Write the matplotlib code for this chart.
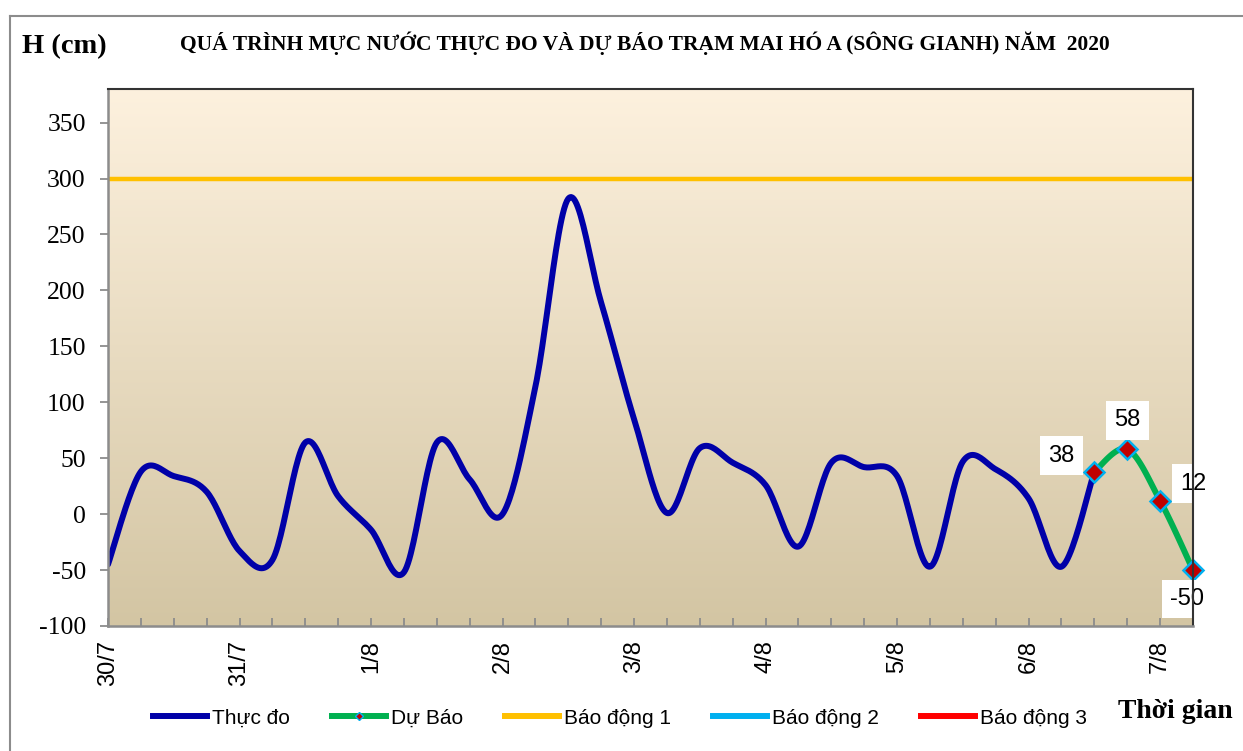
import numpy as np
import matplotlib
matplotlib.use("Agg")
import matplotlib.pyplot as plt
from matplotlib.lines import Line2D

# ---------------- data ----------------
day_labels = ["30/7", "31/7", "1/8", "2/8", "3/8", "4/8", "5/8", "6/8", "7/8"]
steps_per_day = 4  # 6-hourly observations

observed = [-45, 38, 34, 20, -33, -41, 64, 16, -14, -52,
            64, 31, 0, 114, 282, 189, 85, 1, 59, 46,
            26, -29, 46, 42, 34, -47, 47, 40, 14, -47, 38]
forecast_start = 30
forecast = [38, 58, 12, -50]

alarm1 = 300
alarm2 = 500
alarm3 = 650

title = "QUÁ TRÌNH MỰC NƯỚC THỰC ĐO VÀ DỰ BÁO TRẠM MAI HÓ A (SÔNG GIANH) NĂM  2020"
ylabel = "H (cm)"
xlabel = "Thời gian"
legend_labels = ["Thực đo", "Dự Báo", "Báo động 1", "Báo động 2", "Báo động 3"]

# ---------------- helpers ----------------
def catmull_rom(xs, ys, n=24):
    xs = np.asarray(xs, float)
    ys = np.asarray(ys, float)
    pts = np.column_stack([xs, ys])
    out = []
    m = len(pts)
    for i in range(m - 1):
        p0 = pts[i - 1] if i > 0 else pts[i]
        p1 = pts[i]
        p2 = pts[i + 1]
        p3 = pts[i + 2] if i + 2 < m else pts[i + 1]
        t = np.linspace(0, 1, n, endpoint=(i == m - 2))[:, None]
        seg = 0.5 * ((2 * p1) + (-p0 + p2) * t + (2 * p0 - 5 * p1 + 4 * p2 - p3) * t ** 2
                     + (-p0 + 3 * p1 - 3 * p2 + p3) * t ** 3)
        out.append(seg)
    out = np.vstack(out)
    return out[:, 0], out[:, 1]

# ---------------- figure ----------------
W, H = 1243, 751
fig = plt.figure(figsize=(W / 100, H / 100), dpi=100)
fig.patch.set_facecolor("white")

# outer chart border (top and left edges visible)
fig.add_artist(Line2D([10 / W, 1.0], [1 - 16 / H, 1 - 16 / H], transform=fig.transFigure,
                      color="#8c8c8c", lw=1.5))
fig.add_artist(Line2D([10 / W, 10 / W], [0, 1 - 16 / H], transform=fig.transFigure,
                      color="#8c8c8c", lw=1.5))

left, right, top, bottom = 108 / W, 1193 / W, 1 - 89 / H, 1 - 626 / H
ax = fig.add_axes([left, bottom, right - left, top - bottom])

n_obs = len(observed)
n_total = forecast_start + len(forecast)
x_obs = np.arange(n_obs)
x_fc = np.arange(forecast_start, n_total)

ymin, ymax = -100, 380
xmin, xmax = 0, n_total - 1
ax.set_xlim(xmin, xmax)
ax.set_ylim(ymin, ymax)

# gradient background
grad = np.linspace(0, 1, 256)[:, None]
c_top = np.array([253, 241, 222]) / 255
c_bot = np.array([211, 197, 163]) / 255
img = c_top[None, None, :] * (1 - grad[:, :, None]) + c_bot[None, None, :] * grad[:, :, None]
ax.imshow(img, extent=[xmin, xmax, ymin, ymax], aspect="auto", origin="upper", zorder=0)

# alarm lines
ax.axhline(alarm1, color="#FFC000", lw=3.2, zorder=2)
ax.axhline(alarm2, color="#00B0F0", lw=3.2, zorder=2)
ax.axhline(alarm3, color="#FF0000", lw=3.2, zorder=2)

# observed
sx, sy = catmull_rom(x_obs, observed)
ax.plot(sx, sy, color="#0000A8", lw=4.3, solid_capstyle="round", zorder=3)

# forecast
fx, fy = catmull_rom(x_fc, forecast)
ax.plot(fx, fy, color="#00B050", lw=4.3, solid_capstyle="round", zorder=4, clip_on=False)
ax.plot(x_fc, forecast, linestyle="none", marker="D", markersize=10,
        markerfacecolor="#C00000", markeredgecolor="#00B0F0", markeredgewidth=1.8,
        zorder=5, clip_on=False)

# data labels
offsets = [(-33, 16), (0, 29), (33, 17), (-6, -29)]
for xv, yv, (dx, dy) in zip(x_fc, forecast, offsets):
    ax.annotate(f"{yv}", (xv, yv), xytext=(dx, dy), textcoords="offset pixels",
                ha="center", va="center", fontsize=17, family="Liberation Sans",
                bbox=dict(boxstyle="square,pad=0.35", fc="white", ec="none"),
                zorder=6, annotation_clip=False)

# axes styling
for s in ["top", "right"]:
    ax.spines[s].set_color("#333333")
    ax.spines[s].set_linewidth(1.5)
for s in ["left", "bottom"]:
    ax.spines[s].set_color("#8c8c8c")
    ax.spines[s].set_linewidth(1.8)
for s in ax.spines.values():
    s.set_zorder(7)

yt = np.arange(-100, 351, 50)
ax.set_yticks(yt)
ax.set_yticklabels([str(v) for v in yt], family="Liberation Serif", fontsize=18.5)
ax.tick_params(axis="y", direction="out", length=6, width=1.3, color="#8c8c8c", pad=10)

ax.set_xticks(np.arange(n_total))
xl = [""] * n_total
for i, lab in enumerate(day_labels):
    idx = i * steps_per_day
    if idx < n_total:
        xl[idx] = lab
ax.set_xticklabels(xl, rotation=90, family="Liberation Sans", fontsize=17)
ax.tick_params(axis="x", direction="in", length=6, width=1.3, color="#8c8c8c", pad=10)

# texts
fig.text(22 / W, 1 - 47 / H, ylabel, family="Liberation Serif", fontweight="bold",
         fontsize=20.5, ha="left", va="center")
fig.text(645 / W, 1 - 43 / H, title, family="Liberation Serif", fontweight="bold",
         fontsize=15.5, ha="center", va="center")
fig.text(1175 / W, 1 - 712 / H, xlabel, family="Liberation Serif", fontweight="bold",
         fontsize=20, ha="center", va="center")

# legend
handles = [
    Line2D([], [], color="#0000A8", lw=4.3),
    Line2D([], [], color="#00B050", lw=4.3, marker="D", markersize=4,
           markerfacecolor="#C00000", markeredgecolor="#00B0F0"),
    Line2D([], [], color="#FFC000", lw=4.3),
    Line2D([], [], color="#00B0F0", lw=4.3),
    Line2D([], [], color="#FF0000", lw=4.3),
]
fig.legend(handles, legend_labels, loc="center", bbox_to_anchor=(620 / W, 1 - 718 / H),
           ncol=5, frameon=False, prop={"family": "Liberation Sans", "size": 15},
           handlelength=2.6, handletextpad=0.25, columnspacing=2.0)

fig.savefig("out.png", dpi=100)
